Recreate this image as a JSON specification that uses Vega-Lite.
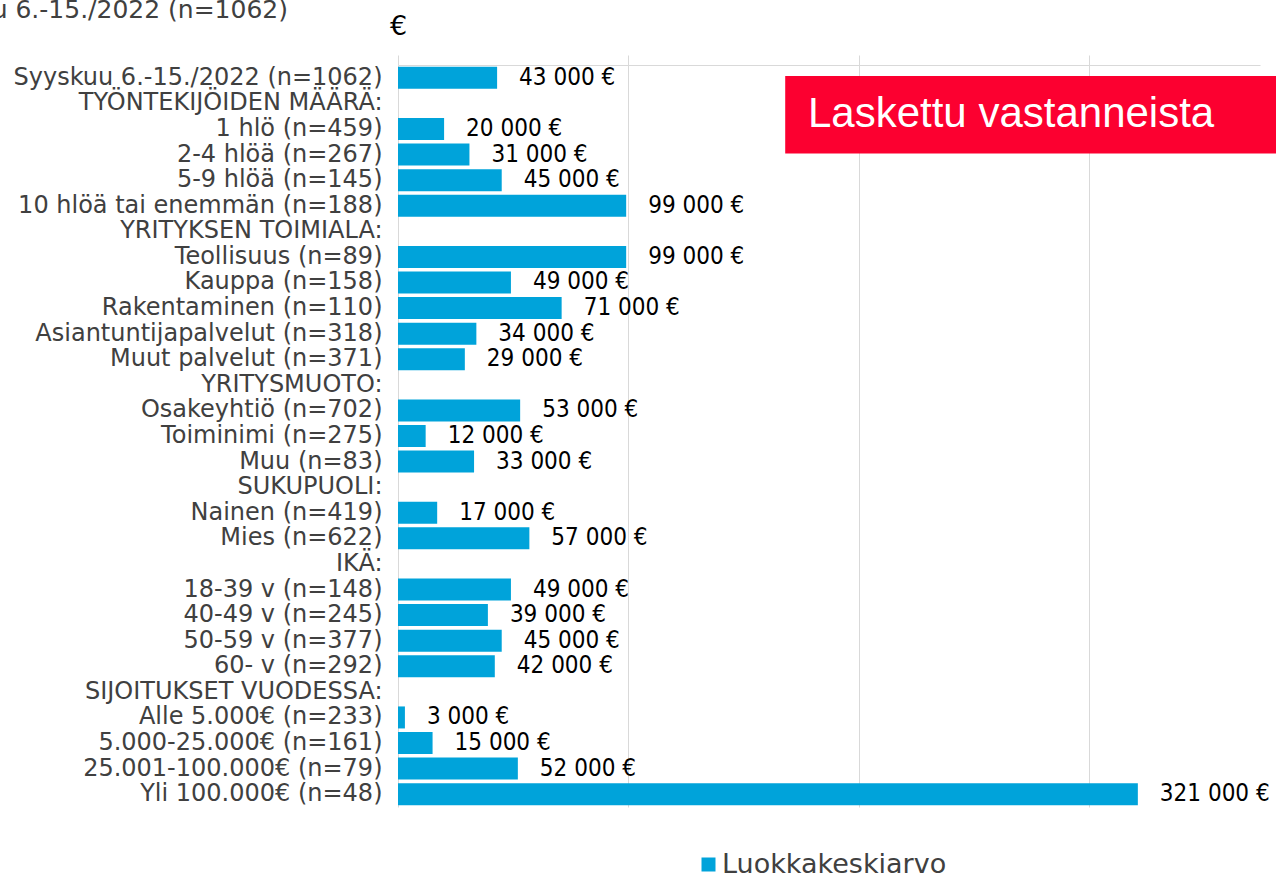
{
  "$schema": "https://vega.github.io/schema/vega-lite/v6.json",
  "width": 862,
  "height": 742,
  "autosize": {"type": "none"},
  "padding": {"left": 398, "top": 65, "right": 16, "bottom": 71},
  "background": "white",
  "config": {
    "view": {"stroke": null},
    "font": "DejaVu Sans",
    "locale": {"number": {"decimal": ",", "thousands": " ", "grouping": [3], "currency": ["", " €"]}}
  },
  "title": {
    "text": "Syyskuu 6.-15./2022 (n=1062)",
    "anchor": "start",
    "frame": "group",
    "align": "right",
    "dx": -110,
    "dy": 31,
    "fontSize": 25,
    "fontWeight": "normal",
    "color": "#404040",
    "font": "DejaVu Sans",
    "baseline": "alphabetic",
    "offset": 0
  },
  "datasets": {
    "main": [
      {"category": "Syyskuu 6.-15./2022 (n=1062)", "value": 43000},
      {"category": "TYÖNTEKIJÖIDEN MÄÄRÄ:", "value": null},
      {"category": "1 hlö (n=459)", "value": 20000},
      {"category": "2-4 hlöä (n=267)", "value": 31000},
      {"category": "5-9 hlöä (n=145)", "value": 45000},
      {"category": "10 hlöä tai enemmän (n=188)", "value": 99000},
      {"category": "YRITYKSEN TOIMIALA:", "value": null},
      {"category": "Teollisuus (n=89)", "value": 99000},
      {"category": "Kauppa (n=158)", "value": 49000},
      {"category": "Rakentaminen (n=110)", "value": 71000},
      {"category": "Asiantuntijapalvelut (n=318)", "value": 34000},
      {"category": "Muut palvelut (n=371)", "value": 29000},
      {"category": "YRITYSMUOTO:", "value": null},
      {"category": "Osakeyhtiö (n=702)", "value": 53000},
      {"category": "Toiminimi (n=275)", "value": 12000},
      {"category": "Muu (n=83)", "value": 33000},
      {"category": "SUKUPUOLI:", "value": null},
      {"category": "Nainen (n=419)", "value": 17000},
      {"category": "Mies (n=622)", "value": 57000},
      {"category": "IKÄ:", "value": null},
      {"category": "18-39 v (n=148)", "value": 49000},
      {"category": "40-49 v (n=245)", "value": 39000},
      {"category": "50-59 v (n=377)", "value": 45000},
      {"category": "60- v (n=292)", "value": 42000},
      {"category": "SIJOITUKSET VUODESSA:", "value": null},
      {"category": "Alle 5.000€ (n=233)", "value": 3000},
      {"category": "5.000-25.000€ (n=161)", "value": 15000},
      {"category": "25.001-100.000€ (n=79)", "value": 52000},
      {"category": "Yli 100.000€ (n=48)", "value": 321000}
    ],
    "note": [
      {"x": 168000, "x2": 381200, "top": "Syyskuu 6.-15./2022 (n=1062)", "bottom": "2-4 hlöä (n=267)", "textRow": "1 hlö (n=459)", "textX": 266000, "label": "Laskettu vastanneista"}
    ]
  },
  "layer": [
    {
      "data": {"name": "main"},
      "mark": {"type": "bar"},
      "encoding": {
        "y": {
          "field": "category",
          "type": "nominal",
          "sort": null,
          "scale": {
            "domain": [
              "Syyskuu 6.-15./2022 (n=1062)", "TYÖNTEKIJÖIDEN MÄÄRÄ:", "1 hlö (n=459)", "2-4 hlöä (n=267)", "5-9 hlöä (n=145)", "10 hlöä tai enemmän (n=188)",
              "YRITYKSEN TOIMIALA:", "Teollisuus (n=89)", "Kauppa (n=158)", "Rakentaminen (n=110)", "Asiantuntijapalvelut (n=318)", "Muut palvelut (n=371)",
              "YRITYSMUOTO:", "Osakeyhtiö (n=702)", "Toiminimi (n=275)", "Muu (n=83)",
              "SUKUPUOLI:", "Nainen (n=419)", "Mies (n=622)",
              "IKÄ:", "18-39 v (n=148)", "40-49 v (n=245)", "50-59 v (n=377)", "60- v (n=292)",
              "SIJOITUKSET VUODESSA:", "Alle 5.000€ (n=233)", "5.000-25.000€ (n=161)", "25.001-100.000€ (n=79)", "Yli 100.000€ (n=48)"
            ],
            "paddingInner": 0.14,
            "paddingOuter": 0.07
          },
          "axis": {
            "title": null,
            "domain": false,
            "ticks": false,
            "labelFontSize": 24,
            "labelColor": "#404040",
            "labelFont": "DejaVu Sans",
            "labelPadding": 16,
            "labelLimit": 0
          }
        },
        "x": {
          "field": "value",
          "type": "quantitative",
          "scale": {"domain": [0, 374000], "nice": false, "zero": true},
          "axis": {
            "orient": "top",
            "values": [0, 100000, 200000, 300000],
            "labels": false,
            "ticks": true,
            "tickSize": 10,
            "tickColor": "#D9D9D9",
            "domainColor": "#D9D9D9",
            "gridColor": "#D9D9D9",
            "grid": true,
            "title": "€",
            "titleFontSize": 27,
            "titleFontWeight": "normal",
            "titleFont": "DejaVu Sans",
            "titleColor": "#000000",
            "titleX": 0,
            "titleY": -31,
            "titleAlign": "center",
            "titleBaseline": "alphabetic",
            "titleAnchor": "start"
          }
        },
        "color": {
          "datum": "Luokkakeskiarvo",
          "type": "nominal",
          "scale": {"range": ["#00A3DA"]},
          "legend": {
            "title": null,
            "orient": "none",
            "legendX": 297,
            "legendY": 786,
            "symbolType": "square",
            "symbolSize": 196,
            "symbolStrokeWidth": 0,
            "labelFontSize": 27,
            "labelColor": "#404040",
            "labelFont": "DejaVu Sans",
            "labelOffset": 0,
            "labelLimit": 500
          }
        }
      }
    },
    {
      "data": {"name": "main"},
      "transform": [{"filter": "datum.value != null"}],
      "mark": {"type": "text", "align": "left", "baseline": "middle", "dx": 22, "fontSize": 24, "font": "DejaVu Sans Condensed, Liberation Sans Narrow, sans-serif", "color": "#000000"},
      "encoding": {
        "y": {"field": "category", "type": "nominal", "sort": null},
        "x": {"field": "value", "type": "quantitative"},
        "text": {"field": "value", "type": "quantitative", "format": "$,.0f"}
      }
    },
    {
      "data": {"name": "note"},
      "mark": {"type": "rect", "color": "#FC0030"},
      "encoding": {
        "x": {"field": "x", "type": "quantitative"},
        "x2": {"field": "x2"},
        "y": {"field": "top", "type": "nominal", "sort": null, "bandPosition": 0.42},
        "y2": {"field": "bottom", "bandPosition": 0.45}
      }
    },
    {
      "data": {"name": "note"},
      "mark": {"type": "text", "align": "center", "baseline": "alphabetic", "fontSize": 42, "font": "Liberation Sans", "color": "#FFFFFF"},
      "encoding": {
        "x": {"field": "textX", "type": "quantitative"},
        "y": {"field": "textRow", "type": "nominal", "sort": null, "bandPosition": 0.42},
        "text": {"field": "label"}
      }
    }
  ]
}
